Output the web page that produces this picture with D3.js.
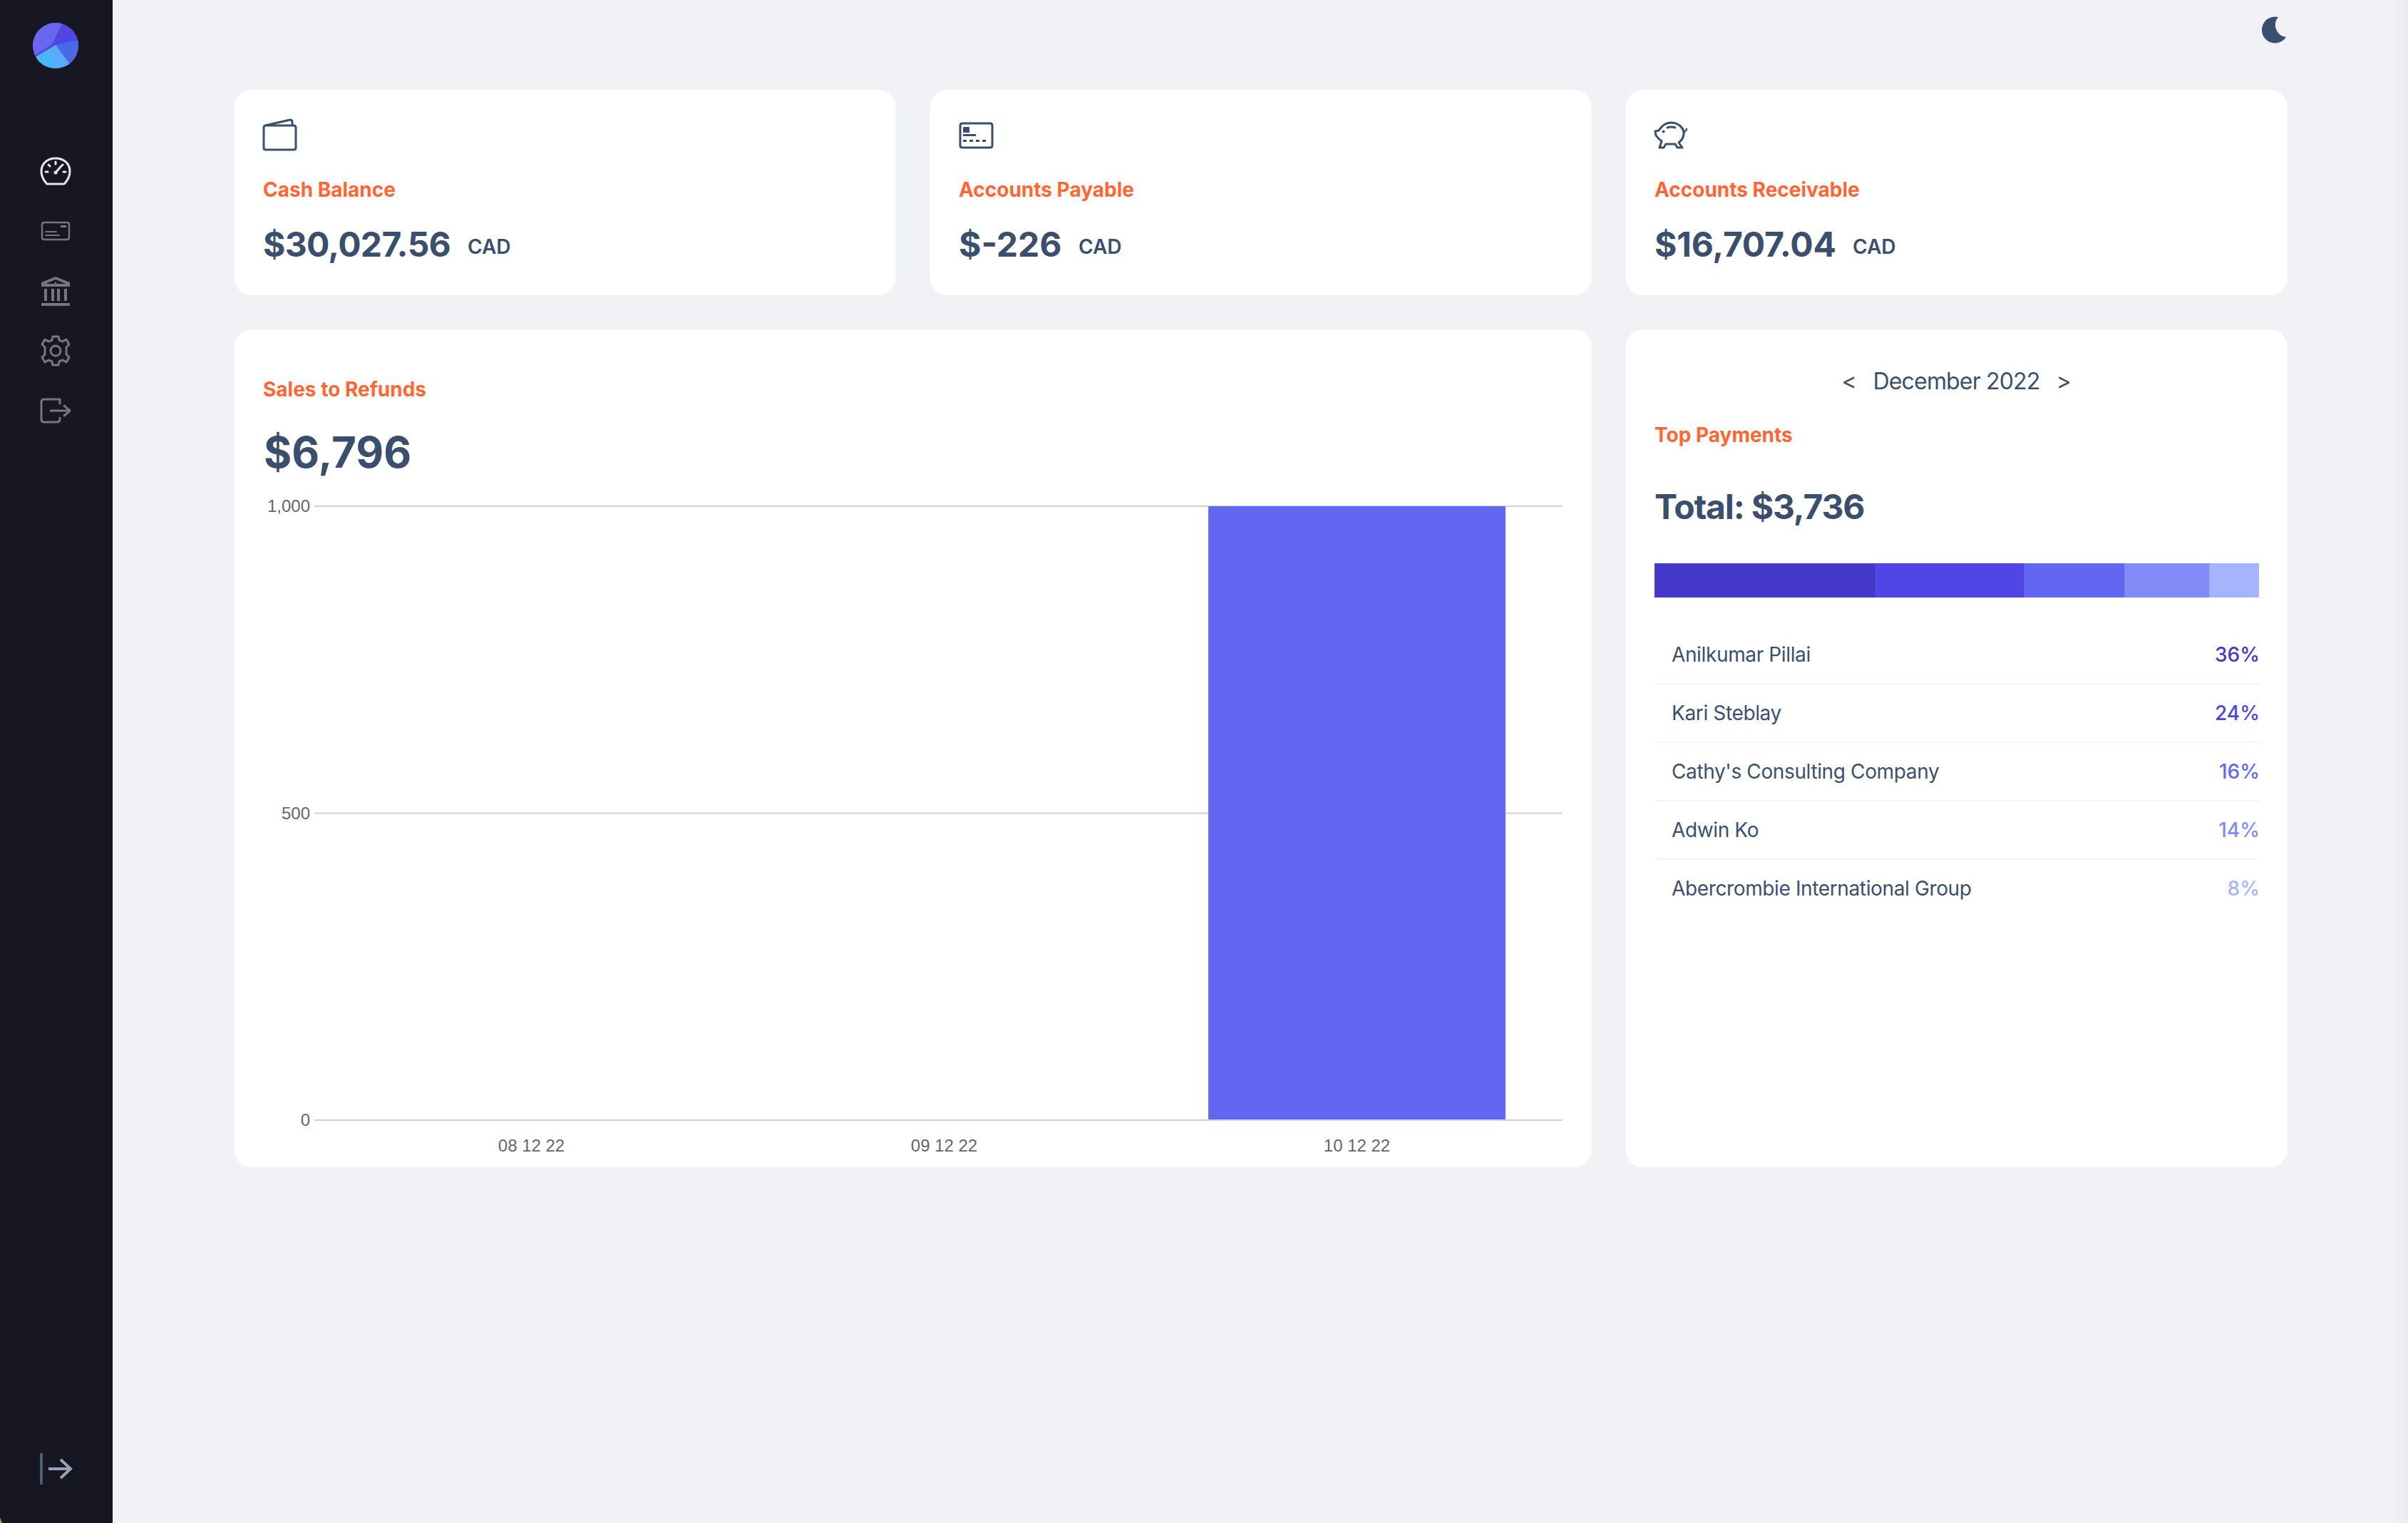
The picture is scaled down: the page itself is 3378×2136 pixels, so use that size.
<!DOCTYPE html>
<html>
<head>
<meta charset="utf-8">
<script src="https://cdn.jsdelivr.net/npm/d3@7/dist/d3.min.js"></script>
<style>
html,body{margin:0;padding:0;background:#f0f2f6;overflow:hidden}
svg{display:block}
text{font-family:Inter,"Noto Sans",sans-serif}
</style>
</head>
<body>
<div id="chart"></div>
<script>
// ---- data ----
const dates = ["08 12 22", "09 12 22", "10 12 22"];
const salesValues = [0, 0, 1000];
const yTicks = [0, 500, 1000];
const payees = ["Anilkumar Pillai", "Kari Steblay", "Cathy's Consulting Company", "Adwin Ko", "Abercrombie International Group"];
const payAmounts = [1366, 920, 621, 524, 305];
const payPercents = ["36%", "24%", "16%", "14%", "8%"];
const payColors = ["#4338ca", "#4f46e5", "#6366f1", "#818cf8", "#a5b4fc"];
const kpiTitles = ["Cash Balance", "Accounts Payable", "Accounts Receivable"];
const kpiValues = ["$30,027.56", "$-226", "$16,707.04"];

const NAVY = "#3a4f6d", ORANGE = "#ff6633";
const W = 3378, H = 2136;
const svg = d3.select("#chart").append("svg").attr("width", W).attr("height", H).attr("viewBox", `0 0 ${W} ${H}`);

svg.append("rect").attr("width", W).attr("height", H).attr("fill", "#f0f2f6");

// scrollbar strip
const defs = svg.append("defs");
const sg = defs.append("linearGradient").attr("id", "sb");
sg.append("stop").attr("offset", 0).attr("stop-color", "#f0f2f6");
sg.append("stop").attr("offset", 1).attr("stop-color", "#e9ebef");
svg.append("rect").attr("x", 3352).attr("width", 26).attr("height", H).attr("fill", "url(#sb)");

// sidebar
svg.append("rect").attr("width", 158).attr("height", H).attr("fill", "#161722");
svg.append("path").attr("d", "M0 2128L3 2136H0Z").attr("fill", "#c98a2e");

// logo
defs.append("clipPath").attr("id", "logoClip").append("circle").attr("cx", 78).attr("cy", 64).attr("r", 32);
const lgr = defs.append("linearGradient").attr("id", "logoLow").attr("x1", 0).attr("x2", 1).attr("y1", 0.7).attr("y2", 0.3);
lgr.append("stop").attr("offset", 0).attr("stop-color", "#3cc2ff");
lgr.append("stop").attr("offset", 1).attr("stop-color", "#6a9ef5");
const lg = svg.append("g").attr("clip-path", "url(#logoClip)");
lg.append("rect").attr("x", 46).attr("y", 32).attr("width", 64).attr("height", 64).attr("fill", "#4f46e5");
lg.append("path").attr("d", "M46 32H88L73 62L46 80Z").attr("fill", "#6a66ee");
lg.append("path").attr("d", "M88 32L73 62L110 60V32Z").attr("fill", "#4f46e5");
lg.append("path").attr("d", "M78 63L110 56V96H98Z").attr("fill", "#4a69e6");
lg.append("path").attr("d", "M46 82L78 63L98 90V96H46Z").attr("fill", "url(#logoLow)");

function icon(d, color, sw, fill) {
  return svg.append("path").attr("d", d).attr("fill", fill || "none").attr("stroke", color)
    .attr("stroke-width", sw).attr("stroke-linejoin", "round").attr("stroke-linecap", "round");
}
const ACT = "#e6e8ee", DIM = "#75767f";
// speedometer
icon("M66 258H90C95 253 98 247 98 240C98 229 89 222 78 222C67 222 58 229 58 240C58 247 61 253 66 258Z", ACT, 3);
icon("M64 241H67M89 241H92M78 227V230M68 231L70 233M88 231L86 233M78 242L85 234", ACT, 3);
svg.append("circle").attr("cx", 78).attr("cy", 242).attr("r", 2.5).attr("fill", ACT);
// card
icon("M62 312H94Q97 312 97 315V333Q97 336 94 336H62Q59 336 59 333V315Q59 312 62 312Z", DIM, 2.4);
icon("M64 325H79M64 330H83", DIM, 1.8);
svg.append("rect").attr("x", 85).attr("y", 316).attr("width", 8).attr("height", 3).attr("fill", DIM);
// bank
svg.append("path").attr("d", "M78 388L98 396V402H58V396Z").attr("fill", DIM);
svg.append("path").attr("d", "M78 392L92 398H64Z").attr("fill", "#161722");
svg.append("circle").attr("cx", 78).attr("cy", 397).attr("r", 1.6).attr("fill", DIM);
svg.append("g").selectAll("rect").data([62, 72, 80, 90]).join("rect").attr("x", d => d).attr("y", 405).attr("width", 4).attr("height", 17).attr("fill", DIM);
svg.append("rect").attr("x", 58).attr("y", 425).attr("width", 40).attr("height", 4).attr("fill", DIM);
// gear
icon("M74 472H82L83 477L88 479L93 476L97 483L93 487V497L97 501L93 508L88 505L83 507L82 512H74L73 507L68 505L63 508L59 501L63 497V487L59 483L63 476L68 479L73 477Z", DIM, 3);
svg.append("circle").attr("cx", 78).attr("cy", 492).attr("r", 7).attr("fill", "none").attr("stroke", DIM).attr("stroke-width", 3);
// exit
icon("M84 560H62Q58 560 58 564V588Q58 592 62 592H80Q84 592 84 588V586M84 560V566M71 576H97M90 569L98 576L90 583", DIM, 3);
// collapse arrow
svg.append("rect").attr("x", 56).attr("y", 2038).attr("width", 4).attr("height", 44).attr("fill", "#4f5d73");
icon("M68 2060H99M85 2047L99 2060L85 2073", "#94a3b8", 4).attr("stroke-linecap", "butt").attr("stroke-linejoin", "miter");

// moon
svg.append("path").attr("d", "M3196 24A18.5 18.5 0 1 0 3207 52A17 17 0 0 1 3196 24Z").attr("fill", NAVY);

// panels
const cardX = [329, 1305, 2281], cardW = 927.5;
svg.append("g").selectAll("rect").data(cardX).join("rect")
  .attr("x", d => d).attr("y", 126).attr("width", cardW).attr("height", 288).attr("rx", 24).attr("fill", "#fff");
svg.append("rect").attr("x", 329).attr("y", 462).attr("width", 1903.5).attr("height", 1175).attr("rx", 24).attr("fill", "#fff");
svg.append("rect").attr("x", 2281).attr("y", 462).attr("width", 927.5).attr("height", 1175).attr("rx", 24).attr("fill", "#fff");

// kpi text
const kpiTx = cardX.map(d => d + 40);
const kpiCad = [656, 1513, 2599];
const kpiTrack = [-0.7, 0, -0.2];
svg.append("g").selectAll("text").data(kpiTitles).join("text").text(d => d)
  .attr("x", (d, i) => kpiTx[i]).attr("y", 276).attr("font-size", 28).attr("font-weight", 700).attr("fill", ORANGE);
svg.append("g").selectAll("text").data(kpiValues).join("text").text(d => d)
  .attr("x", (d, i) => kpiTx[i]).attr("y", 360).attr("font-size", 48).attr("font-weight", 700).attr("fill", NAVY)
  .attr("letter-spacing", (d, i) => kpiTrack[i]);
svg.append("g").selectAll("text").data(kpiCad).join("text").text("CAD")
  .attr("x", d => d).attr("y", 356).attr("font-size", 28).attr("font-weight", 600).attr("fill", NAVY);

// kpi icons
icon("M373 176H412Q415 176 415 179V207Q415 210 412 210H373Q370 210 370 207V179Q370 176 373 176ZM372 176L407 168Q410 168 410 171V176", NAVY, 3);
icon("M1350 173H1389Q1392 173 1392 176V204Q1392 207 1389 207H1350Q1347 207 1347 204V176Q1347 173 1350 173Z", NAVY, 3);
svg.append("rect").attr("x", 1351).attr("y", 178).attr("width", 9).attr("height", 8).attr("rx", 1).attr("fill", NAVY);
svg.append("rect").attr("x", 1351).attr("y", 188).attr("width", 18).attr("height", 3).attr("fill", NAVY);
svg.append("g").selectAll("rect").data([1351, 1360, 1369, 1378]).join("rect").attr("x", d => d).attr("y", 196).attr("width", 5).attr("height", 3).attr("fill", NAVY);
// piggy
icon("M2327 183C2332 175 2338 172 2344 172C2354 172 2362 179 2362 187C2362 193 2359 197 2355 200L2360 207H2353L2350 202H2337L2334 207H2328L2331 198C2328 196 2325 193 2323 190L2322 184Z", NAVY, 3);
icon("M2362 186C2364 184 2366 183 2366 181", NAVY, 2.4);
icon("M2339 179C2342 178 2347 178 2350 179", NAVY, 3);
svg.append("circle").attr("cx", 2333.5).attr("cy", 184.5).attr("r", 2).attr("fill", NAVY);

// sales panel
svg.append("text").text("Sales to Refunds").attr("x", 369).attr("y", 556).attr("font-size", 28).attr("font-weight", 700).attr("fill", ORANGE);
svg.append("text").text("$6,796").attr("x", 370).attr("y", 656).attr("font-size", 60).attr("font-weight", 700).attr("fill", NAVY);

const x = d3.scaleBand().domain(dates).range([456, 2193]).paddingInner(0).paddingOuter(0);
const y = d3.scaleLinear().domain([0, 1000]).range([1571, 710]);
const barW = x.bandwidth() * 0.72;
const TICKFONT = '"Liberation Sans", Arial, sans-serif';

const yAxis = d3.axisLeft(y).tickValues(yTicks).tickFormat(d3.format(",")).tickSize(0).tickPadding(6);
const yG = svg.append("g").attr("transform", "translate(441,0)").call(yAxis);
yG.select(".domain").remove();
yG.selectAll("text").attr("font-size", 24).attr("fill", "#666").style("font-family", TICKFONT);
svg.append("g").selectAll("line").data(yTicks).join("line")
  .attr("x1", 441).attr("x2", 2192).attr("y1", d => y(d)).attr("y2", d => y(d))
  .attr("stroke", "#d1d1d1").attr("stroke-width", 2);

svg.append("g").selectAll("rect").data(salesValues).join("rect")
  .attr("x", (d, i) => x(dates[i]) + (x.bandwidth() - barW) / 2).attr("width", barW)
  .attr("y", d => y(d)).attr("height", d => y(0) - y(d) - 1).attr("fill", "#6366f1");

const xAxis = d3.axisBottom(x).tickSize(0).tickPadding(27);
const xG = svg.append("g").attr("transform", "translate(0,1571)").call(xAxis);
xG.select(".domain").remove();
xG.selectAll("text").attr("font-size", 24).attr("fill", "#666").style("font-family", TICKFONT);

// payments panel
svg.append("text").text("December 2022").attr("x", 2744.5).attr("y", 546).attr("text-anchor", "middle").attr("font-size", 32).attr("letter-spacing", -0.83).attr("fill", NAVY);
svg.append("text").text("<").attr("x", 2594).attr("y", 546).attr("text-anchor", "middle").attr("font-size", 32).attr("fill", NAVY);
svg.append("text").text(">").attr("x", 2895).attr("y", 546).attr("text-anchor", "middle").attr("font-size", 32).attr("fill", NAVY);
svg.append("text").text("Top Payments").attr("x", 2321).attr("y", 620).attr("font-size", 28).attr("font-weight", 700).attr("fill", ORANGE);
svg.append("text").text("Total: $3,736").attr("x", 2321).attr("y", 728).attr("font-size", 48).attr("font-weight", 700).attr("letter-spacing", -1.15).attr("fill", NAVY);

const total = d3.sum(payAmounts);
const px = d3.scaleLinear().domain([0, total]).range([2321, 3169]);
const cum = d3.cumsum(payAmounts);
svg.append("g").selectAll("rect").data(payAmounts).join("rect")
  .attr("x", (d, i) => px(cum[i] - d)).attr("width", d => px(d) - px(0))
  .attr("y", 790).attr("height", 48).attr("fill", (d, i) => payColors[i]);

const rowY = d3.scalePoint().domain(payees).range([918, 1246]);
const rows = svg.append("g").selectAll("g").data(payees).join("g").attr("transform", d => `translate(0,${rowY(d)})`);
rows.append("text").text(d => d).attr("x", 2345).attr("y", 10).attr("font-size", 28).attr("letter-spacing", -0.37).attr("fill", NAVY);
rows.append("text").text((d, i) => payPercents[i]).attr("x", 3170).attr("y", 10).attr("text-anchor", "end")
  .attr("font-size", 28).attr("font-weight", 500).attr("fill", (d, i) => payColors[i]);
rows.filter((d, i) => i < payees.length - 1).append("line")
  .attr("x1", 2321).attr("x2", 3169).attr("y1", 41).attr("y2", 41).attr("stroke", "#f1f5f9").attr("stroke-width", 2);
</script>
</body>
</html>
